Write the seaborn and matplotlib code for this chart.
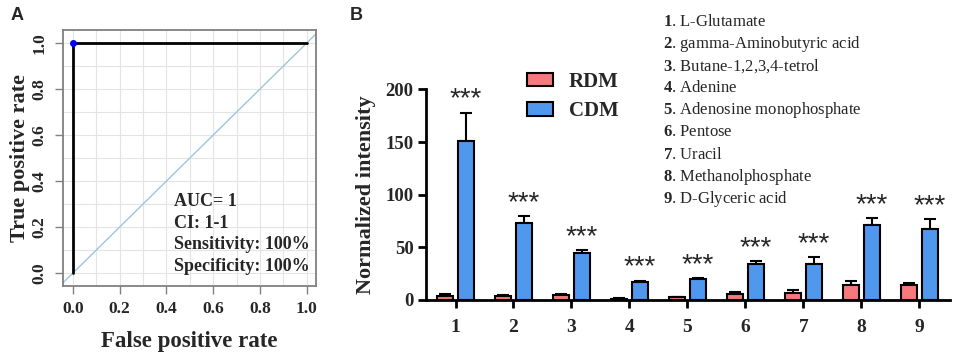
import numpy as np
import pandas as pd
import seaborn as sns
import matplotlib.pyplot as plt
from matplotlib.patches import Patch

# ROC curve points (panel A)
roc_fpr = [0.0, 0.0, 1.0]
roc_tpr = [0.0, 1.0, 1.0]
roc_text = ['AUC= 1', 'CI: 1-1', 'Sensitivity: 100%', 'Specificity: 100%']

# metabolite intensities (panel B)
metabolites = ['L-Glutamate', 'gamma-Aminobutyric acid', 'Butane-1,2,3,4-tetrol',
               'Adenine', 'Adenosine monophosphate', 'Pentose', 'Uracil',
               'Methanolphosphate', 'D-Glyceric acid']
groups = ['RDM', 'CDM']
rdm_mean = [4.0, 3.5, 4.5, 1.0, 2.5, 6.0, 6.5, 14.0, 14.0]
rdm_err = [1.5, 1.2, 1.2, 0.8, 0.8, 1.5, 3.0, 4.5, 2.5]
cdm_mean = [151.0, 73.0, 44.5, 17.0, 19.5, 34.5, 34.5, 71.0, 67.0]
cdm_err = [27.0, 7.0, 3.0, 1.5, 1.0, 2.5, 6.5, 7.0, 9.5]
stars = ['***'] * 9
colors = ['#F7797D', '#4F98EE']

sns.set_theme(style='white')
plt.rcParams['font.family'] = ['Liberation Serif', 'DejaVu Serif']
plt.rcParams['mathtext.fontset'] = 'custom'
plt.rcParams['mathtext.rm'] = 'Liberation Serif'
plt.rcParams['mathtext.bf'] = 'Liberation Serif:bold'

fig = plt.figure(figsize=(9.57, 3.6), dpi=100)

# ---------------- panel A: ROC ----------------
axA = fig.add_axes([0.0658, 0.2056, 0.2642, 0.7111])
axA.set_xlim(-0.0427, 1.0385)
axA.set_ylim(-0.0565, 1.0565)
for v in np.arange(0, 1.01, 0.1):
    axA.axvline(v, color='#E4E4E4', lw=0.8, zorder=0)
    axA.axhline(v, color='#E4E4E4', lw=0.8, zorder=0)
axA.axline((0, 0), (1, 1), color='#9CC6DE', lw=1.0, zorder=1)
sns.lineplot(x=roc_fpr, y=roc_tpr, sort=False, estimator=None, color='black',
             lw=2, ax=axA, zorder=2)
axA.plot([roc_fpr[1]], [roc_tpr[1]], 'o', color='blue', ms=4, zorder=3)
for i, t in enumerate(roc_text):
    axA.text(0.43, 0.31 - i * 0.094, t, fontsize=13, fontweight='bold', va='center', ha='left')
ticks = [0.0, 0.2, 0.4, 0.6, 0.8, 1.0]
axA.set_xticks(ticks)
axA.set_yticks(ticks)
axA.set_xticklabels([f'{t:.1f}' for t in ticks], fontsize=12.5, fontweight='bold')
axA.set_yticklabels([f'{t:.1f}' for t in ticks], fontsize=12.5, fontweight='bold',
                    rotation=90, va='center')
axA.tick_params(length=6, width=1, color='#808080', pad=5, bottom=True, left=True)
for s in axA.spines.values():
    s.set_color('#808080')
    s.set_linewidth(1.3)
axA.set_xlabel('False positive rate', fontsize=16.5, fontweight='bold', labelpad=10)
axA.set_ylabel('True positive rate', fontsize=16, fontweight='bold', labelpad=1)
fig.text(17 / 957, 1 - 15 / 360, 'A', fontsize=13, fontweight='bold',
         family='Liberation Sans', ha='center', va='center')

# ---------------- panel B: bars ----------------
df = pd.DataFrame({
    'idx': [str(i + 1) for i in range(9)] * 2,
    'group': [groups[0]] * 9 + [groups[1]] * 9,
    'value': rdm_mean + cdm_mean,
})
axB = fig.add_axes([0.4451, 0.1667, 0.5476, 0.5847])
sns.barplot(data=df, x='idx', y='value', hue='group', palette=colors, saturation=1,
            width=0.72, gap=0.22, errorbar=None, edgecolor='black',
            linewidth=1.5, ax=axB, legend=False, zorder=2)
for cont, err in zip(axB.containers, [rdm_err, cdm_err]):
    xs = [b.get_x() + b.get_width() / 2 for b in cont]
    hs = [b.get_height() for b in cont]
    axB.errorbar(xs, hs, yerr=[np.zeros(len(err)), err], fmt='none',
                 ecolor='black', elinewidth=1.5, capsize=4, capthick=1.5, zorder=1)
cdm_bars = axB.containers[1]
for b, e, s in zip(cdm_bars, cdm_err, stars):
    axB.text(b.get_x() + b.get_width() / 2, b.get_height() + e, s,
             ha='center', va='bottom', fontsize=20, family='Liberation Sans',
             clip_on=False)
axB.set_xlim(-0.51, 8.53)
axB.set_ylim(0, 200)
axB.set_yticks([0, 50, 100, 150, 200])
axB.set_yticklabels(['0', '50', '100', '150', '200'], fontsize=13.5, fontweight='bold')
axB.set_xticklabels([str(i + 1) for i in range(9)], fontsize=14, fontweight='bold')
axB.tick_params(length=6, width=2, color='black', pad=8, bottom=True, left=True)
axB.tick_params(axis='y', pad=3)
sns.despine(ax=axB)
for s in ['left', 'bottom']:
    axB.spines[s].set_linewidth(2)
    axB.spines[s].set_color('black')
axB.set_xlabel('')
axB.set_ylabel('Normalized intensity', fontsize=16, fontweight='bold', labelpad=7)
fig.text(356 / 957, 1 - 16 / 360, 'B', fontsize=13, fontweight='bold',
         family='Liberation Sans', ha='center', va='center')

handles = [Patch(facecolor=c, edgecolor='black', linewidth=1.5, label=g)
           for c, g in zip(colors, groups)]
fig.legend(handles=handles, loc='upper left', bbox_to_anchor=(527 / 957, 1 - 72 / 360),
           frameon=False, borderpad=0, borderaxespad=0, handlelength=1.25,
           handleheight=0.62, handletextpad=0.75, labelspacing=0.45,
           prop={'family': 'Liberation Serif', 'weight': 'bold', 'size': 15})

for i, name in enumerate(metabolites):
    fig.text(663 / 957, 1 - (22 + i * 22.1) / 360, rf'$\mathbf{{{i + 1}}}$. {name}',
             fontsize=12, ha='left', va='center')

fig.savefig('out.png', dpi=100)
